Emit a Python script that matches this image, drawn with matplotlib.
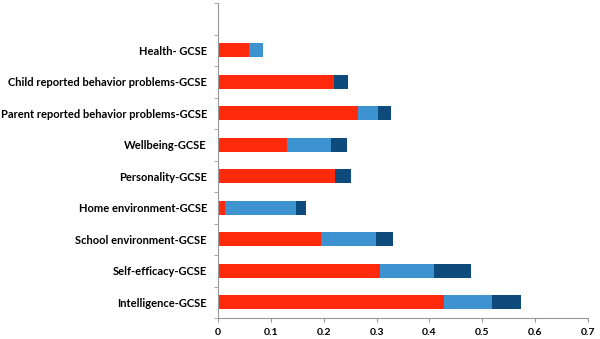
import matplotlib.pyplot as plt
import numpy as np

categorias = ['Intelligence-GCSE', 'Self-efficacy-GCSE', 'School environment-GCSE',
              'Home environment-GCSE', 'Personality-GCSE', 'Wellbeing-GCSE',
              'Parent reported behavior problems-GCSE',
              'Child reported behavior problems-GCSE', 'Health- GCSE']
vermelho = [0.428, 0.307, 0.195, 0.013, 0.221, 0.130, 0.264, 0.219, 0.059]
azul_claro = [0.090, 0.102, 0.103, 0.135, 0.000, 0.083, 0.038, 0.000, 0.026]
azul_escuro = [0.055, 0.070, 0.033, 0.018, 0.030, 0.031, 0.025, 0.027, 0.000]
xticks = [0, 0.1, 0.2, 0.3, 0.4, 0.5, 0.6, 0.7]

plt.rcParams['font.family'] = ['Lato', 'DejaVu Sans']

fig = plt.figure(figsize=(6, 3.39), dpi=100)
ax = fig.add_axes([218 / 600, 21 / 339, 370 / 600, 315 / 339])

y = np.arange(len(categorias))
esq2 = np.array(vermelho) + np.array(azul_claro)
ax.barh(y, vermelho, height=0.43, color='#FF2A0C')
ax.barh(y, azul_claro, left=vermelho, height=0.43, color='#3D93CF')
ax.barh(y, azul_escuro, left=esq2, height=0.43, color='#0F4A7C')

ax.set_xlim(0, 0.7)
ax.set_ylim(-0.5, 9.5)
ax.set_xticks(xticks)
ax.set_xticklabels(['0' if v == 0 else f'{v:g}' for v in xticks],
                   fontsize=7.5, fontweight='bold')
ax.set_yticks(y)
ax.set_yticklabels(categorias, fontsize=8, fontweight='bold')
ax.set_yticks(np.arange(-0.5, 10, 1), minor=True)
ax.tick_params(axis='y', which='major', length=0, pad=8)
ax.tick_params(axis='y', which='minor', length=3, color='#999999', direction='out')
ax.tick_params(axis='x', length=3, color='#999999', pad=4)

for lado in ['top', 'right']:
    ax.spines[lado].set_visible(False)
for lado in ['left', 'bottom']:
    ax.spines[lado].set_color('#999999')
    ax.spines[lado].set_linewidth(0.8)

fig.savefig('out.png', dpi=100)
